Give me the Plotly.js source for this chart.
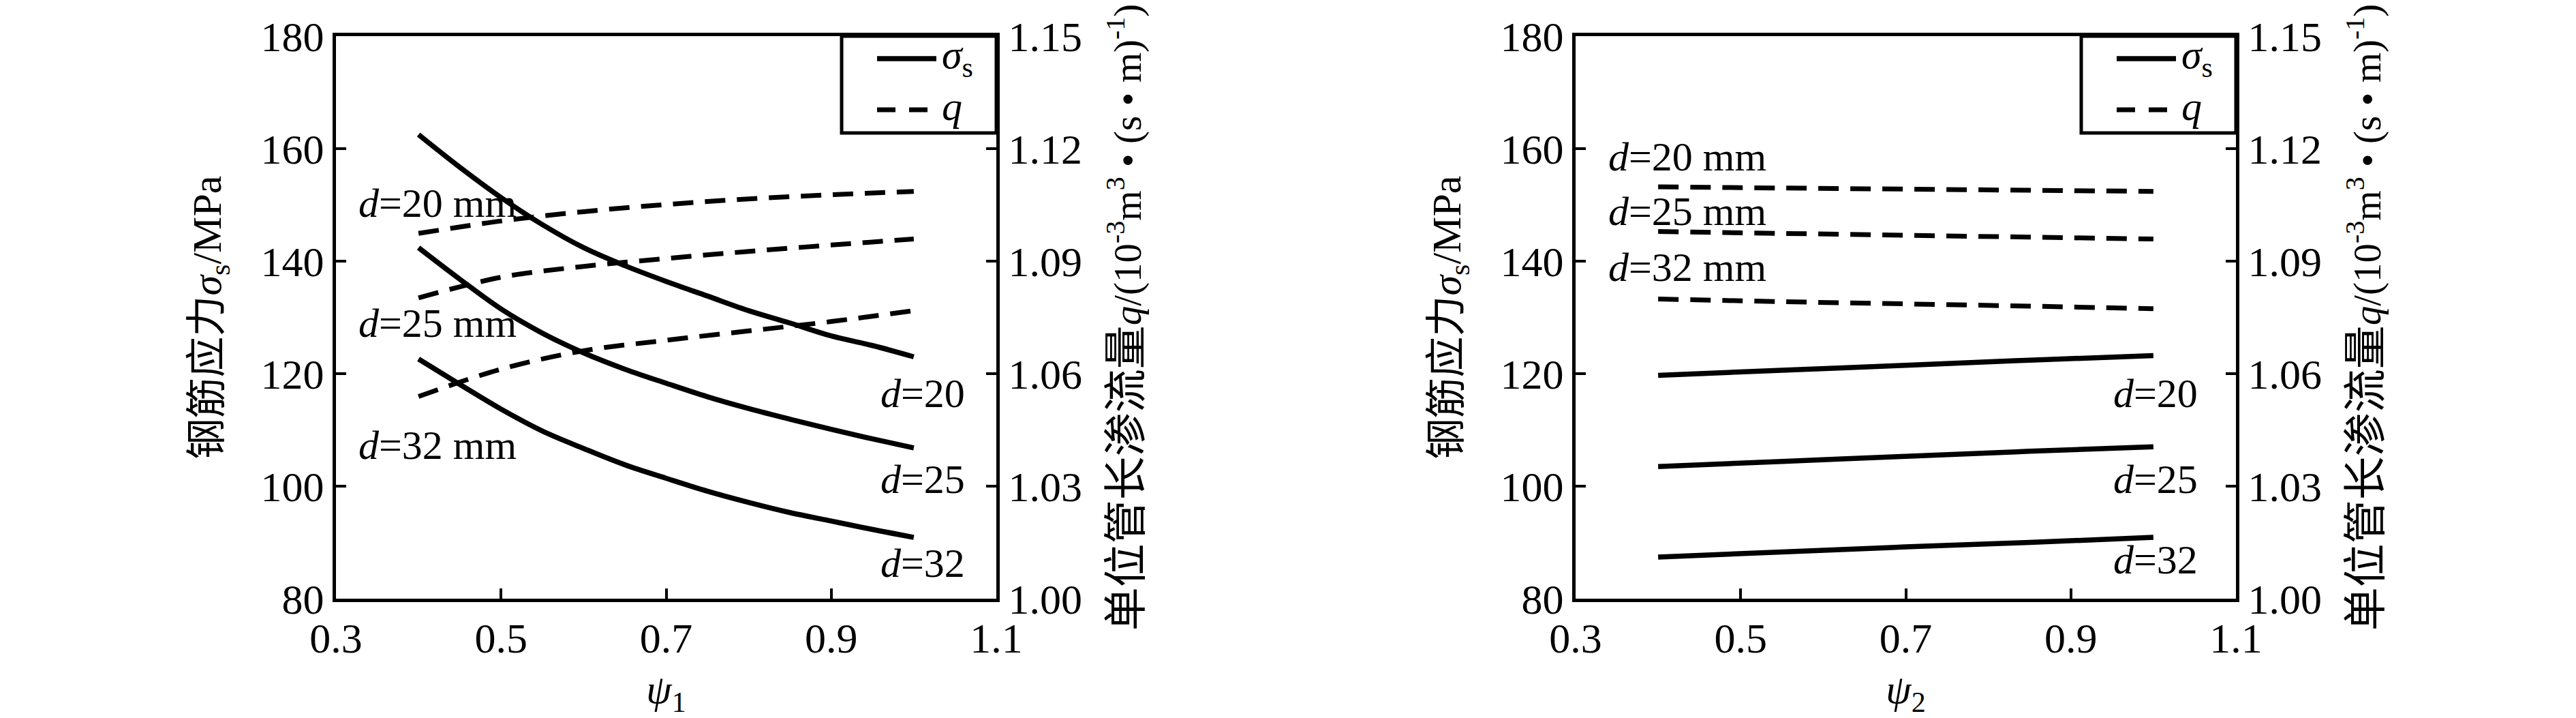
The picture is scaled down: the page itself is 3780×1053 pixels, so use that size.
<!DOCTYPE html>
<html>
<head>
<meta charset="utf-8">
<script src="https://cdn.plot.ly/plotly-3.0.1.min.js"></script>
<style>
  html, body { margin: 0; padding: 0; background: #fff; }
  #chart { width: 3780px; height: 1053px; }
</style>
</head>
<body>
<div id="chart"></div>
<script>
// left panel: psi1
const psi1 = [0.40, 0.45, 0.50, 0.55, 0.60, 0.65, 0.70, 0.75, 0.80, 0.85, 0.90, 0.95, 1.00];
const sigma1_d20 = [162.5, 156.7, 151.3, 146.5, 142.4, 139.2, 136.4, 133.8, 131.2, 129.0, 126.7, 125.0, 123.0];
const sigma1_d25 = [142.4, 136.8, 131.5, 127.2, 123.7, 120.8, 118.3, 115.9, 113.8, 111.9, 110.1, 108.4, 106.8];
const sigma1_d32 = [122.6, 118.1, 113.7, 109.8, 106.7, 103.8, 101.4, 99.1, 97.1, 95.3, 93.8, 92.3, 90.9];

const psi1Q = [0.4, 0.5, 0.6, 0.7, 0.8, 0.9, 1.0];
const q1_d20 = [1.0974, 1.1007, 1.1032, 1.1051, 1.1066, 1.1077, 1.1086];
const q1_d25 = [1.0802, 1.0857, 1.0886, 1.0907, 1.0926, 1.0943, 1.0959];
const q1_d32 = [1.0539, 1.0612, 1.0661, 1.0689, 1.0714, 1.0739, 1.0768];

// right panel: psi2
const psi2 = [0.40, 0.55, 0.70, 0.85, 1.00];
const sigma2_d20 = [119.7, 120.6, 121.5, 122.4, 123.2];
const sigma2_d25 = [103.5, 104.4, 105.3, 106.2, 107.0];
const sigma2_d32 = [87.4, 88.3, 89.2, 90.0, 90.9];
const q2_d20 = [1.1098, 1.1095, 1.1092, 1.1089, 1.1086];
const q2_d25 = [1.0979, 1.0974, 1.0969, 1.0964, 1.0959];
const q2_d32 = [1.0799, 1.0792, 1.0786, 1.0780, 1.0773];

const leftLabels = ['<i>d</i>=20 mm', '<i>d</i>=25 mm', '<i>d</i>=32 mm'];
const rightLabels = ['<i>d</i>=20', '<i>d</i>=25', '<i>d</i>=32'];
const leftLabelY1 = [150.3, 129.0, 107.3];
const rightLabelY1 = [116.5, 101.2, 86.3];
const leftLabelY2 = [158.6, 148.8, 138.9];
const rightLabelY2 = [116.5, 101.2, 86.9];

const FONT = 'Liberation Serif, Times New Roman, Noto Sans CJK SC, serif';
const solid = { color: '#000', width: 7.5, shape: 'spline' };
const dashed = { color: '#000', width: 7, dash: '30px,17px', shape: 'spline' };

function sigmaTrace(x, y, xa, ya) {
    return { x: x, y: y, xaxis: xa, yaxis: ya, type: 'scatter', mode: 'lines',
             line: solid, name: 'σs', hoverinfo: 'skip' };
}
function qTrace(x, y, xa, ya) {
    return { x: x, y: y, xaxis: xa, yaxis: ya, type: 'scatter', mode: 'lines',
             line: dashed, name: 'q', hoverinfo: 'skip' };
}

const traces = [
    sigmaTrace(psi1, sigma1_d20, 'x', 'y'),
    sigmaTrace(psi1, sigma1_d25, 'x', 'y'),
    sigmaTrace(psi1, sigma1_d32, 'x', 'y'),
    qTrace(psi1Q, q1_d20, 'x', 'y2'),
    qTrace(psi1Q, q1_d25, 'x', 'y2'),
    qTrace(psi1Q, q1_d32, 'x', 'y2'),
    sigmaTrace(psi2, sigma2_d20, 'x2', 'y3'),
    sigmaTrace(psi2, sigma2_d25, 'x2', 'y3'),
    sigmaTrace(psi2, sigma2_d32, 'x2', 'y3'),
    qTrace(psi2, q2_d20, 'x2', 'y4'),
    qTrace(psi2, q2_d25, 'x2', 'y4'),
    qTrace(psi2, q2_d32, 'x2', 'y4')
];

const W = 3780, H = 1053;
const dom1 = [493 / W, 1462 / W];
const dom2 = [2312 / W, 3281 / W];
const ydom = [1 - 878 / H, 1 - 53 / H];

const tickFont = { family: FONT, size: 62, color: '#000' };
const titleFont = { family: FONT, size: 60, color: '#000' };

function xAxis(domain, anchor, title) {
    return {
        domain: domain, anchor: anchor, range: [0.3, 1.1],
        tick0: 0.3, dtick: 0.2, tickformat: '.1f',
        ticks: 'inside', ticklen: 15, tickwidth: 4, tickcolor: '#000',
        showline: true, linewidth: 5, linecolor: '#000', mirror: true,
        showgrid: false, zeroline: false, tickfont: tickFont,
        title: { text: title, font: titleFont, standoff: 30 }
    };
}
function yLeft(anchor) {
    return {
        domain: ydom, anchor: anchor, range: [80, 180], dtick: 20,
        ticks: 'inside', ticklen: 15, tickwidth: 4, tickcolor: '#000',
        showline: true, linewidth: 5, linecolor: '#000',
        showgrid: false, zeroline: false, tickfont: tickFont,
        title: { text: '钢筋应力<i>σ</i><sub>s</sub>/MPa', font: titleFont, standoff: 40 }
    };
}
function yRight(anchor, overlay) {
    return {
        domain: ydom, anchor: anchor, overlaying: overlay, side: 'right',
        range: [1.00, 1.15], tick0: 1.00, dtick: 0.03, tickformat: '.2f',
        ticks: 'inside', ticklen: 15, tickwidth: 4, tickcolor: '#000',
        showline: true, linewidth: 5, linecolor: '#000',
        showgrid: false, zeroline: false, tickfont: tickFont,
        title: { text: '单位管长渗流量<span style="font-size:57px"><i>q</i>/(10<sup>-3</sup>m<sup>3</sup> • (s • m)<sup>-1</sup>)</span>',
                 font: { family: FONT, size: 64, color: '#000' }, standoff: 44 }
    };
}

// hand-drawn legend box (top-right corner of each panel), offsets in pixels
const shapes = [];
const annotations = [];
function legend(dx) {
    const px = v => (v + dx) / W;
    const py = v => 1 - v / H;
    shapes.push({ type: 'rect', xref: 'paper', yref: 'paper',
        x0: px(1235), x1: px(1462), y0: py(195), y1: py(53),
        line: { color: '#000', width: 5 }, fillcolor: '#fff', layer: 'above' });
    shapes.push({ type: 'line', xref: 'paper', yref: 'paper',
        x0: px(1287), x1: px(1374), y0: py(86), y1: py(86),
        line: { color: '#000', width: 7.5 }, layer: 'above' });
    shapes.push({ type: 'line', xref: 'paper', yref: 'paper',
        x0: px(1287), x1: px(1374), y0: py(161), y1: py(161),
        line: { color: '#000', width: 7, dash: '27px,20px' }, layer: 'above' });
    annotations.push({ xref: 'paper', yref: 'paper', x: px(1380), y: py(84),
        text: '<i>σ</i><sub>s</sub>', xanchor: 'left', yanchor: 'middle',
        showarrow: false, font: titleFont });
    annotations.push({ xref: 'paper', yref: 'paper', x: px(1380), y: py(156),
        text: '<i>q</i>', xanchor: 'left', yanchor: 'middle',
        showarrow: false, font: titleFont });
}
legend(0);
legend(2312 - 493);

leftLabels.forEach((t, i) => {
    annotations.push({ xref: 'x', yref: 'y', x: 0.326, y: leftLabelY1[i], text: t,
        xanchor: 'left', yanchor: 'middle', showarrow: false, font: titleFont });
    annotations.push({ xref: 'x2', yref: 'y3', x: 0.338, y: leftLabelY2[i], text: t,
        xanchor: 'left', yanchor: 'middle', showarrow: false, font: titleFont });
});
rightLabels.forEach((t, i) => {
    annotations.push({ xref: 'x', yref: 'y', x: 0.958, y: rightLabelY1[i], text: t,
        xanchor: 'left', yanchor: 'middle', showarrow: false, font: titleFont });
    annotations.push({ xref: 'x2', yref: 'y3', x: 0.950, y: rightLabelY2[i], text: t,
        xanchor: 'left', yanchor: 'middle', showarrow: false, font: titleFont });
});

const layout = {
    width: W, height: H,
    margin: { l: 0, r: 0, t: 0, b: 0 },
    paper_bgcolor: '#fff', plot_bgcolor: '#fff',
    font: { family: FONT, color: '#000' },
    showlegend: false,
    xaxis: xAxis(dom1, 'y', '<i>ψ</i><sub>1</sub>'),
    yaxis: yLeft('x'),
    yaxis2: yRight('x', 'y'),
    xaxis2: xAxis(dom2, 'y3', '<i>ψ</i><sub>2</sub>'),
    yaxis3: yLeft('x2'),
    yaxis4: yRight('x2', 'y3'),
    shapes: shapes,
    annotations: annotations
};

Plotly.newPlot('chart', traces, layout, { staticPlot: true });
</script>
</body>
</html>
